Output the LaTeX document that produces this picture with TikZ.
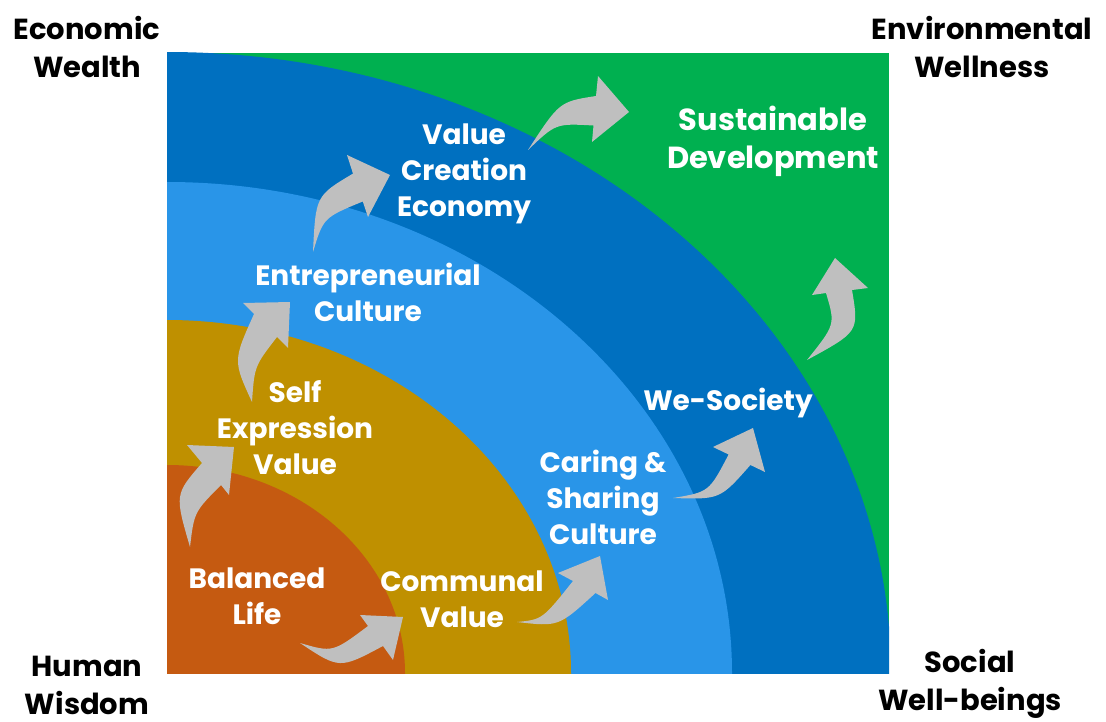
\documentclass[tikz,border=0pt]{standalone}
\usepackage{fontspec}
\setmainfont{Poppins}
\definecolor{cOrange}{HTML}{C55A11}
\definecolor{cGold}{HTML}{BF9000}
\definecolor{cLight}{HTML}{2995E8}
\definecolor{cDark}{HTML}{0070C0}
\definecolor{cGreen}{HTML}{00B050}
\definecolor{cGray}{HTML}{BFBFBF}
\begin{document}
\begin{tikzpicture}[x=1pt,y=-1pt,
  lbl/.style={font=\bfseries\fontsize{28}{36}\selectfont, text=white, align=center, inner sep=0pt},
  biglbl/.style={font=\bfseries\fontsize{30.5}{38}\selectfont, text=white, align=center, inner sep=0pt},
  outer/.style={font=\bfseries\fontsize{29}{38}\selectfont, text=black, align=center, inner sep=0pt},
  garrow/.style={fill=cGray}]
\useasboundingbox (0,0) rectangle (1106,722);
% background field
\fill[cGreen] (167,53) rectangle (889,673);
\begin{scope}
  \clip (167,53) rectangle (889,673);
  \fill[cDark]   (167,673) ellipse [x radius=724, y radius=621];
  \fill[cLight]  (167,673) ellipse [x radius=565, y radius=491];
  \fill[cGold]   (167,673) ellipse [x radius=404, y radius=353];
  \fill[cOrange] (167,673) ellipse [x radius=238, y radius=208];
\end{scope}
% curved block arrows
\fill[garrow] (300,643) .. controls (332.7,652.5) .. (368,626) -- (360,615) -- (403,617) -- (393,660) -- (383,646) .. controls (339.5,669.2) .. (300,643) -- cycle;
\fill[garrow] (190,547) .. controls (174.7,494.4) .. (202,463) -- (187,445) -- (234,447) -- (229,495) -- (221,485) .. controls (194.2,512) .. (190,547) -- cycle;
\fill[garrow] (252,402) .. controls (233,360.7) .. (254,314) -- (243,303) -- (290,302) -- (288,348) -- (277,337) .. controls (254.5,366.1) .. (252,402) -- cycle;
\fill[garrow] (313,252) .. controls (315.7,195.8) .. (353,173.6) -- (347,155) -- (390,175) -- (368,217) -- (362.75,201.5) .. controls (323.4,217.7) .. (313,252) -- cycle;
\fill[garrow] (528,150) .. controls (559.4,101.7) .. (596,96) -- (598,76) -- (629,112) -- (592,142) -- (593.5,125.5) .. controls (555.8,123.4) .. (528,150) -- cycle;
\fill[garrow] (517,622) .. controls (542.3,619.5) .. (573,581) -- (558,573) -- (600,556) -- (608,600) -- (595.5,593) .. controls (558.6,626.8) .. (517,622) -- cycle;
\fill[garrow] (673,498) .. controls (709,492) .. (728.6,454.5) -- (713,447) -- (753,428) -- (765,472) -- (750.4,465) .. controls (720,499.5) .. (673,498) -- cycle;
\fill[garrow] (807,360) .. controls (835.4,324.5) .. (826,293) -- (812,295) -- (835,258) -- (868,288) -- (852,290) .. controls (859,331.7) .. (807,360) -- cycle;
% labels inside
\node[biglbl] (sd) at (773,141) {Sustainable\\Development};
\node[lbl] (vce) at (464,174) {Value\\Creation\\Economy};
\node[lbl] (ec) at (368,292) {Entrepreneurial\\Culture};
\node[lbl] (sev) at (295,428) {Self\\Expression\\Value};
\node[lbl] (bl) at (257,596) {Balanced\\Life};
\node[lbl] (cv) at (462,599) {Communal\\Value};
\node[lbl] (csc) at (603,497) {Caring \&\\Sharing\\Culture};
\node[lbl] (ws) at (728,403) {We-Society};
% corner labels
\node[outer] (ew) at (87,47) {Economic\\Wealth};
\node[outer] (env) at (982,47) {Environmental\\Wellness};
\node[outer] (hw) at (87,685) {Human\\Wisdom};
\node[outer] (sw) at (970,684) {Social\\Well-beings};
\end{tikzpicture}
\end{document}
